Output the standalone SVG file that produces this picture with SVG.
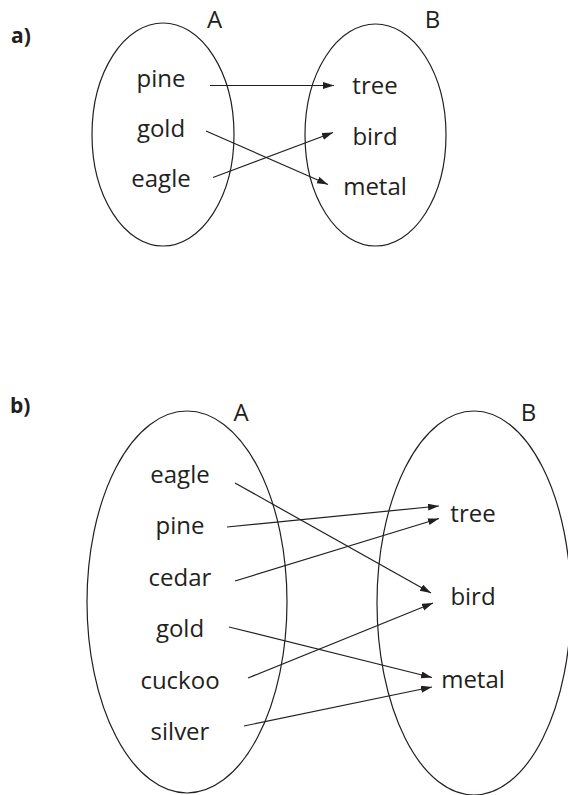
<svg xmlns="http://www.w3.org/2000/svg" width="568" height="795" viewBox="0 0 568 795">
<style>
.set{fill:none;stroke:#231f20;stroke-width:1.2}
.t{font-family:"Open Sans","Noto Sans","DejaVu Sans",sans-serif;font-size:24px;fill:#231f20;text-anchor:middle}
.h{font-family:"Open Sans","Noto Sans","DejaVu Sans",sans-serif;font-size:21px;font-weight:bold;fill:#231f20}
.c{stroke:#231f20;stroke-width:1.2;fill:none;marker-end:url(#ah)}
</style>
<defs>
<marker id="ah" markerUnits="userSpaceOnUse" markerWidth="12" markerHeight="8" refX="11" refY="3.5" orient="auto">
<path d="M0,0 L11,3.5 L0,7 z" fill="#231f20"/>
</marker>
</defs>
<rect width="568" height="795" fill="#fff"/>
<!-- part a -->
<text class="h" x="11" y="43">a)</text>
<g id="a-setA"><ellipse class="set" cx="163" cy="134.5" rx="71" ry="111.5"/><text class="t" x="214.5" y="28">A</text></g>
<g id="a-setB"><ellipse class="set" cx="375.5" cy="135" rx="70.5" ry="111"/><text class="t" x="432.5" y="28">B</text></g>
<g id="a-pine"><text class="t" x="161" y="87">pine</text></g>
<g id="a-gold"><text class="t" x="161" y="137">gold</text></g>
<g id="a-eagle"><text class="t" x="161" y="187">eagle</text></g>
<g id="a-tree"><text class="t" x="375" y="94">tree</text></g>
<g id="a-bird"><text class="t" x="375" y="145">bird</text></g>
<g id="a-metal"><text class="t" x="375" y="195">metal</text></g>
<!-- part b -->
<text class="h" x="10" y="413">b)</text>
<g id="b-setA"><ellipse class="set" cx="187" cy="602" rx="100" ry="191"/><text class="t" x="241" y="421">A</text></g>
<g id="b-setB"><ellipse class="set" cx="474" cy="603" rx="97" ry="192"/><text class="t" x="528.5" y="421">B</text></g>
<g id="b-eagle"><text class="t" x="180" y="483">eagle</text></g>
<g id="b-pine"><text class="t" x="180" y="534">pine</text></g>
<g id="b-cedar"><text class="t" x="180" y="586">cedar</text></g>
<g id="b-gold"><text class="t" x="180" y="637">gold</text></g>
<g id="b-cuckoo"><text class="t" x="180" y="689">cuckoo</text></g>
<g id="b-silver"><text class="t" x="180" y="740">silver</text></g>
<g id="b-tree"><text class="t" x="473" y="522">tree</text></g>
<g id="b-bird"><text class="t" x="473" y="605">bird</text></g>
<g id="b-metal"><text class="t" x="473" y="688">metal</text></g>
<g id="connectors">
<line class="c" x1="210" y1="85.5" x2="334" y2="85.5"/>
<line class="c" x1="206" y1="131" x2="328" y2="184.5"/>
<line class="c" x1="213" y1="177.5" x2="333" y2="132.5"/>
<line class="c" x1="235" y1="483" x2="431" y2="593"/>
<line class="c" x1="227" y1="527" x2="439" y2="506"/>
<line class="c" x1="235" y1="581" x2="439" y2="518.5"/>
<line class="c" x1="229" y1="627" x2="432" y2="677.5"/>
<line class="c" x1="248" y1="678" x2="433" y2="603"/>
<line class="c" x1="244" y1="726" x2="432" y2="687"/>
</g>
</svg>
